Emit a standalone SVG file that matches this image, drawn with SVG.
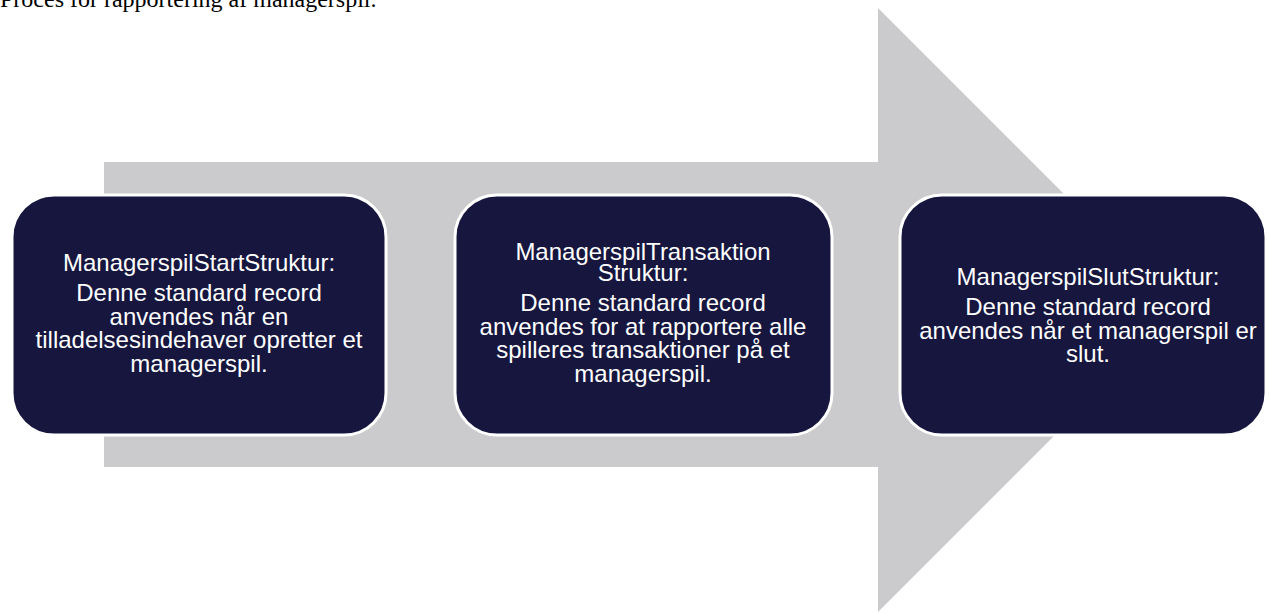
<svg xmlns="http://www.w3.org/2000/svg" width="1269" height="613" viewBox="0 0 1269 613">
<style>
.box{fill:#16163e;stroke:#ffffff;stroke-width:3}
.t{font-family:"Liberation Sans",Arial,sans-serif;font-size:24px;fill:#ffffff;text-anchor:middle}
.cap{font-family:"Liberation Serif","Times New Roman",serif;font-size:24px;fill:#000000}
</style>
<rect width="1269" height="613" fill="#ffffff"/>
<text class="cap" x="0" y="7">Proces for rapportering af managerspil.</text>
<g id="connectors">
<polygon points="104,162 878,162 878,8 1180,310 878,612 878,467 104,467" fill="#cbcbcd"/>
</g>
<g id="node1">
<rect class="box" x="12" y="195" width="374" height="240" rx="42" ry="42"/>
<text class="t" x="199" y="271">ManagerspilStartStruktur:</text>
<text class="t" x="199" y="301">Denne standard record</text>
<text class="t" x="199" y="324.5">anvendes når en</text>
<text class="t" x="199" y="348">tilladelsesindehaver opretter et</text>
<text class="t" x="199" y="371.5">managerspil.</text>
</g>
<g id="node2">
<rect class="box" x="455" y="195" width="377" height="240" rx="42" ry="42"/>
<text class="t" x="643" y="260">ManagerspilTransaktion</text>
<text class="t" x="643" y="281">Struktur:</text>
<text class="t" x="643" y="311">Denne standard record</text>
<text class="t" x="643" y="334.5">anvendes for at rapportere alle</text>
<text class="t" x="643" y="358">spilleres transaktioner på et</text>
<text class="t" x="643" y="381.5">managerspil.</text>
</g>
<g id="node3">
<rect class="box" x="900" y="195" width="366" height="240" rx="42" ry="42"/>
<text class="t" x="1088" y="285">ManagerspilSlutStruktur:</text>
<text class="t" x="1088" y="315">Denne standard record</text>
<text class="t" x="1088" y="338.5">anvendes når et managerspil er</text>
<text class="t" x="1088" y="362">slut.</text>
</g>
</svg>
